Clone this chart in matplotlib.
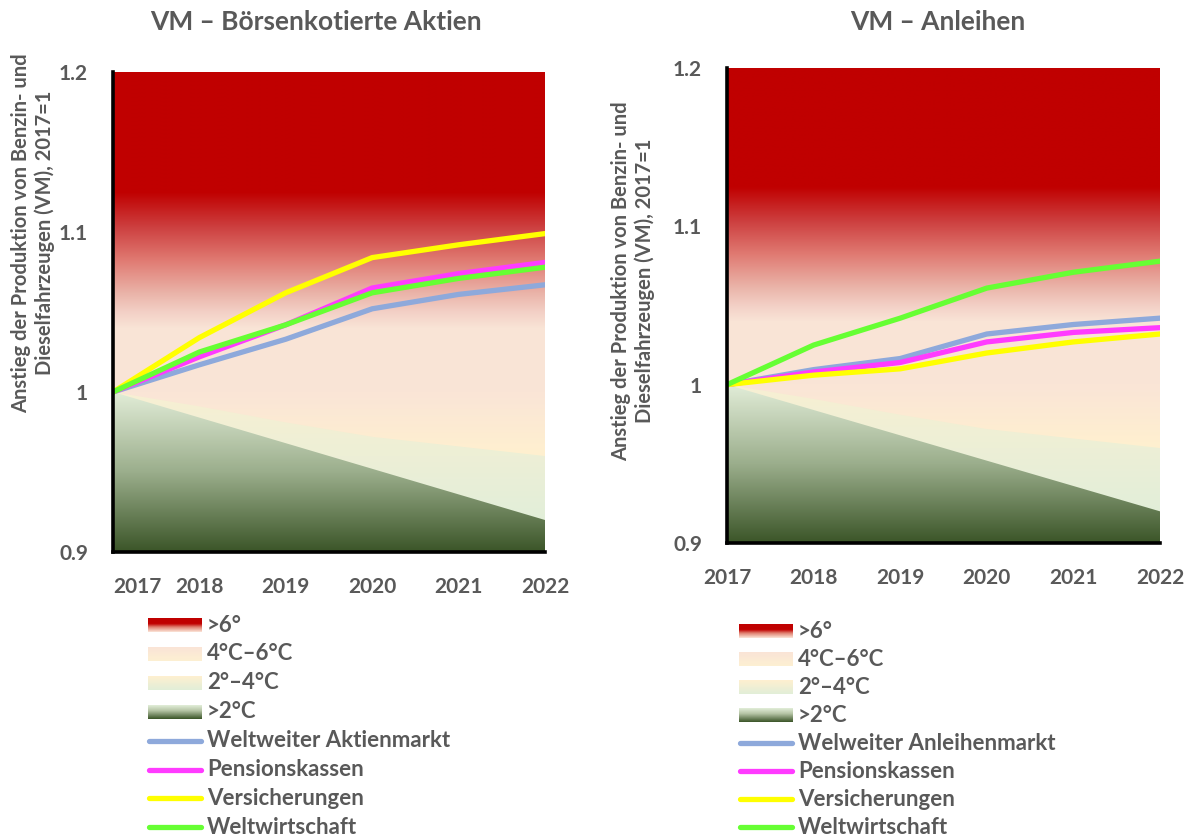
import numpy as np
import matplotlib
matplotlib.use('Agg')
import matplotlib.pyplot as plt
from matplotlib.colors import to_rgb

plt.rcParams['font.family'] = ['Lato', 'DejaVu Sans']
plt.rcParams['font.weight'] = 'bold'

grau = '#595959'

# --- Daten ---
jahre = [2017, 2018, 2019, 2020, 2021, 2022]

aktien_markt = [1.000, 1.017, 1.033, 1.052, 1.061, 1.067]
aktien_pension = [1.000, 1.022, 1.042, 1.065, 1.074, 1.081]
aktien_versich = [1.000, 1.034, 1.062, 1.084, 1.092, 1.099]
aktien_welt = [1.000, 1.025, 1.042, 1.062, 1.071, 1.078]

anleihen_markt = [1.000, 1.0095, 1.0165, 1.032, 1.038, 1.042]
anleihen_pension = [1.000, 1.008, 1.014, 1.027, 1.033, 1.036]
anleihen_versich = [1.000, 1.006, 1.010, 1.020, 1.027, 1.032]
anleihen_welt = [1.000, 1.025, 1.042, 1.061, 1.071, 1.078]

# Szenario-Grenzen (Temperaturpfade)
grenze_2c = [1.000, 0.984, 0.968, 0.952, 0.936, 0.920]
grenze_4c = [1.000, 0.991, 0.981, 0.972, 0.966, 0.960]
grenze_6c = [1.040, 1.040, 1.040, 1.040, 1.040, 1.040]
y_min, y_max = 0.9, 1.2

szenario_labels = ['>6°', '4°C–6°C', '2°–4°C', '>2°C']
aktien_labels = ['Weltweiter Aktienmarkt', 'Pensionskassen', 'Versicherungen', 'Weltwirtschaft']
anleihen_labels = ['Welweiter Anleihenmarkt', 'Pensionskassen', 'Versicherungen', 'Weltwirtschaft']
linien_farben = ['#8EA9DB', '#FF3BFF', '#FFFF00', '#66FF33']

# Farbverlaeufe (y-Wert, Farbe)
verlauf_2c = [(0.9, '#3B5528'), (0.95, '#9BAE8C'), (1.0, '#E2EDD8')]
verlauf_4c = [(0.92, '#E2EED9'), (1.0, '#F8F0D3')]
verlauf_6c = [(0.96, '#FFF0CF'), (1.0, '#FAE5D7'), (1.04, '#F9E4D6')]
verlauf_ueber = [(1.04, '#F9E4D6'), (1.05, '#F3D0C6'), (1.062, '#EAB3A8'),
                 (1.0825, '#E07A72'), (1.103, '#CD4040'), (1.125, '#C00000'),
                 (1.2, '#C00000')]


def verlauf_bild(stops, werte):
    ys = [s[0] for s in stops]
    cols = np.array([to_rgb(s[1]) for s in stops])
    rgb = np.stack([np.interp(werte, ys, cols[:, k]) for k in range(3)], axis=-1)
    return rgb[:, None, :]


def band(ax, oben, stops):
    # jedes Band reicht bis zum unteren Rand, die naechsten liegen darueber
    werte = np.linspace(y_min, y_max, 600)
    poly = ax.fill_between(jahre, [y_min] * 6, oben, facecolor='none', edgecolor='none')
    img = ax.imshow(verlauf_bild(stops, werte), extent=[2017, 2022, y_min, y_max],
                    origin='lower', aspect='auto', interpolation='bilinear', zorder=1)
    img.set_clip_path(poly.get_paths()[0], transform=ax.transData)


def panel(ax, reihen, titel_x, titel):
    band(ax, [y_max] * 6, verlauf_ueber)
    band(ax, grenze_6c, verlauf_6c)
    band(ax, grenze_4c, verlauf_4c)
    band(ax, grenze_2c, verlauf_2c)
    for werte, farbe in zip(reihen, linien_farben):
        ax.plot(jahre, werte, color=farbe, lw=3.8, zorder=3, solid_joinstyle='miter')
    ax.set_xlim(2017, 2022)
    ax.set_ylim(y_min, y_max)
    ax.set_xticks(jahre)
    ax.set_yticks([0.9, 1.0, 1.1, 1.2])
    ax.set_yticklabels(['0.9', '1', '1.1', '1.2'])
    ax.tick_params(length=0, labelsize=15, colors=grau, pad=18)
    for s in ['top', 'right']:
        ax.spines[s].set_visible(False)
    for s in ['left', 'bottom']:
        ax.spines[s].set_linewidth(2.6)
        ax.spines[s].set_color('black')
        ax.spines[s].set_zorder(4)
    fig.text(titel_x / 1193, 1 - 22 / 836, titel, ha='center', va='center',
             fontsize=19, color=grau)


def legende(ov, x0, y0, dy, labels):
    legend_verlaeufe = [
        [(0.0, '#FBE5D8'), (0.35, '#E08070'), (0.6, '#C00000'), (1.0, '#C00000')],
        [(0.0, '#FDF0D2'), (1.0, '#FAE4D7')],
        [(0.0, '#E2EED8'), (1.0, '#FEF0D0')],
        [(0.0, '#3B5528'), (0.6, '#B5C4A5'), (1.0, '#E2EED8')],
    ]
    for i, (lab, stops) in enumerate(zip(szenario_labels, legend_verlaeufe)):
        y = y0 + i * dy
        ov.imshow(verlauf_bild(stops, np.linspace(0, 1, 50)),
                  extent=[x0, x0 + 54, y + 7, y - 7], origin='lower',
                  aspect='auto', interpolation='bilinear')
        ov.text(x0 + 59, y, lab, va='center', ha='left', fontsize=16, color=grau)
    for j, (lab, farbe) in enumerate(zip(labels, linien_farben)):
        y = y0 + (j + 4) * dy
        ov.plot([x0 + 1, x0 + 53], [y, y], color=farbe, lw=3.8, solid_capstyle='round')
        ov.text(x0 + 59, y, lab, va='center', ha='left', fontsize=16, color=grau)


fig = plt.figure(figsize=(11.93, 8.36), dpi=100)

ax1 = fig.add_axes([113 / 1193, 1 - 552 / 836, 432 / 1193, 480 / 836])
panel(ax1, [aktien_markt, aktien_pension, aktien_versich, aktien_welt], 316,
      'VM – Börsenkotierte Aktien')
lab0 = ax1.get_xticklabels()[0]
lab0.set_horizontalalignment('left')

ax2 = fig.add_axes([727 / 1193, 1 - 543 / 836, 433 / 1193, 475 / 836])
panel(ax2, [anleihen_markt, anleihen_pension, anleihen_versich, anleihen_welt], 938,
      'VM – Anleihen')

ylab = 'Anstieg der Produktion von Benzin- und\nDieselfahrzeugen (VM), 2017=1'
fig.text(33 / 1193, 1 - 233 / 836, ylab, rotation=90, ha='center', va='center',
         fontsize=14.5, color=grau, linespacing=1.15)
fig.text(633 / 1193, 1 - 281 / 836, ylab, rotation=90, ha='center', va='center',
         fontsize=14.5, color=grau, linespacing=1.15)

ov = fig.add_axes([0, 0, 1, 1])
ov.set_xlim(0, 1193)
ov.set_ylim(836, 0)
ov.axis('off')
legende(ov, 148, 625, 28.9, aktien_labels)
legende(ov, 739, 631, 28.0, anleihen_labels)
ov.set_xlim(0, 1193)
ov.set_ylim(836, 0)

fig.savefig('out.png', dpi=100)
